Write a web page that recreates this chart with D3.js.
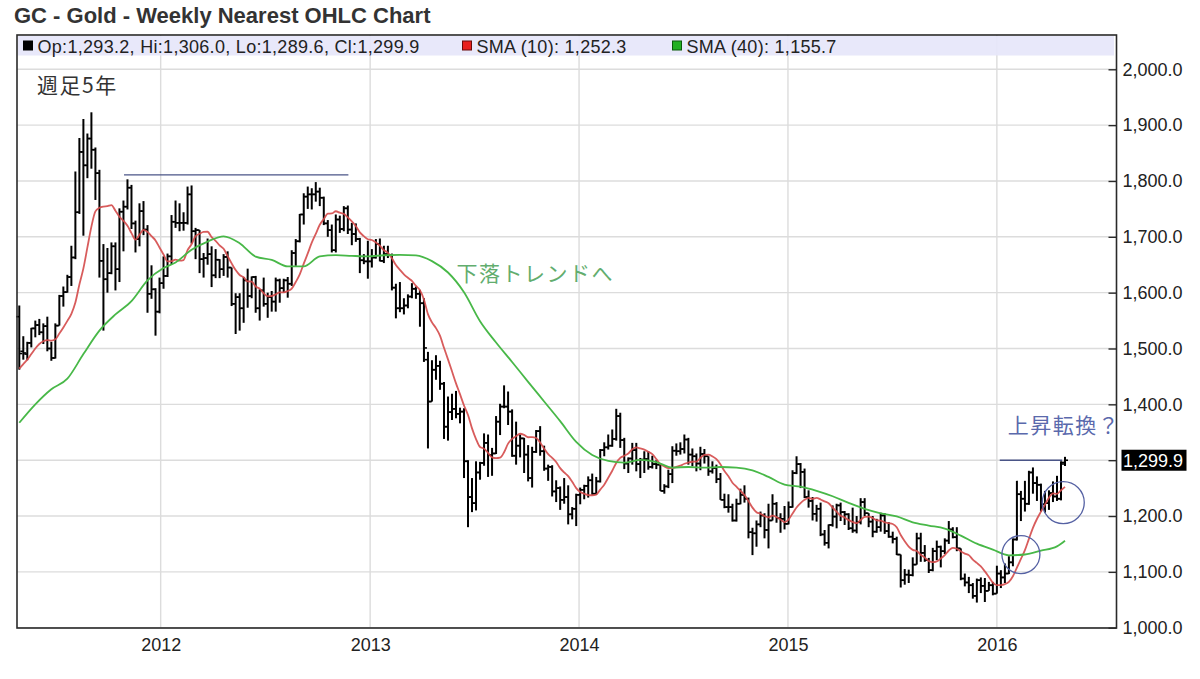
<!DOCTYPE html>
<html><head><meta charset="utf-8">
<script src="https://cdn.jsdelivr.net/npm/d3@7"></script>
<style>
html,body{margin:0;padding:0;background:#fff;}
svg{display:block;}
</style></head><body>
<svg id="chart" width="1200" height="679"></svg>
<script>
// ---------------- DATA ----------------
const chartTitle = "GC - Gold - Weekly Nearest OHLC Chart";
const firstWeek = "2011-04-29";           // position of first weekly bar, then one bar per week

const opens = [
 1557,1495,1490,1510,1536,1542,1529,1540,1500,1483,1541,1594,1601,1628,1663,1744,1852,1828,1876,1856,1814,1657,1624,1635,1683,1642,1745,1754,1788,1724,1696,1746,1713,1598,1606,
 1566,1617,1630,1665,1727,1725,1725,1725,1776,1710,1712,1660,1662,1669,1631,1659,1642,1664,1645,1580,1592,1572,1622,1594,1628,1572,1604,1580,1592,1584,1622,1608,1622,1616,1671,1692,1740,1772,1776,1776,1781,1770,1724,1712,1676,1731,1714,1751,1713,1705,1696,1658,1656,
 1656,1663,1687,1657,1669,1667,1609,1572,1572,1577,1593,1607,1598,1581,1480,1405,1462,1469,1437,1360,1386,1392,1383,1387,1298,1234,1223,1278,1295,1331,1309,1312,1369,1396,1396,1387,1308,1326,1339,1310,1268,1315,1352,1316,1285,1288,1244,1250,1229,1234,1203,1213,
 1238,1247,1254,1264,1240,1262,1318,1323,1326,1338,1379,1336,1294,1303,1318,1293,1301,1302,1288,1293,1292,1245,1253,1275,1317,1316,1320,1337,1310,1307,1294,1311,1307,1280,1286,1266,1229,1216,1216,1192,1222,1238,1231,1171,1169,1185,1201,1175,1192,1222,1196,1195,
 1186,1216,1277,1293,1279,1234,1227,1204,1213,1167,1152,1184,1199,1219,1207,1203,1178,1174,1189,1225,1205,1190,1172,1180,1201,1173,1163,1159,1131,1085,1095,1094,1113,1160,1134,1121,1103,1137,1145,1137,1156,1176,1162,1142,1088,1081,1076,1057,1085,1075,1066,1076,
 1061,1097,1090,1097,1117,1158,1239,1231,1222,1278,1259,1256,1221,1223,1241,1235,1231,1293.2
];
const highs = [
 1577,1522,1512,1537,1550,1553,1545,1557,1512,1545,1596,1611,1632,1684,1817,1877,1911,1885,1923,1860,1820,1687,1680,1690,1690,1751,1765,1803,1793,1729,1760,1764,1721,1649,1608,
 1627,1665,1670,1739,1765,1760,1744,1790,1792,1716,1712,1671,1697,1683,1678,1660,1669,1674,1645,1599,1599,1628,1643,1629,1630,1606,1627,1600,1603,1627,1625,1625,1628,1676,1696,1741,1778,1790,1787,1798,1788,1772,1730,1722,1740,1738,1755,1756,1725,1724,1698,1669,1693,
 1678,1696,1697,1684,1684,1670,1616,1619,1590,1597,1617,1611,1605,1590,1494,1479,1488,1478,1440,1414,1419,1424,1394,1393,1300,1268,1298,1297,1348,1346,1322,1379,1401,1434,1423,1391,1369,1346,1340,1327,1324,1354,1361,1326,1292,1291,1264,1253,1268,1255,1216,1240,
 1251,1256,1271,1276,1270,1320,1332,1346,1355,1392,1385,1340,1305,1331,1331,1304,1316,1316,1308,1300,1294,1257,1283,1325,1330,1332,1346,1340,1321,1312,1324,1320,1307,1298,1292,1277,1240,1239,1222,1231,1249,1255,1233,1179,1192,1208,1205,1222,1239,1225,1205,1218,
 1226,1282,1307,1295,1285,1246,1234,1220,1224,1175,1185,1219,1222,1224,1209,1205,1215,1200,1232,1232,1205,1200,1195,1206,1205,1189,1172,1163,1131,1105,1104,1126,1170,1170,1148,1125,1143,1156,1147,1160,1191,1180,1180,1142,1097,1091,1080,1088,1090,1089,1082,1082,
 1111,1103,1115,1128,1160,1263,1245,1263,1281,1287,1271,1258,1245,1246,1262,1272,1298,1306.0
];
const lows = [
 1462,1480,1479,1502,1520,1524,1508,1495,1478,1482,1541,1575,1600,1612,1660,1741,1702,1805,1822,1766,1627,1532,1600,1633,1604,1619,1674,1749,1714,1672,1683,1703,1564,1589,1523,
 1563,1607,1628,1651,1716,1710,1711,1722,1688,1660,1635,1627,1650,1610,1626,1626,1630,1627,1576,1526,1532,1546,1573,1590,1564,1550,1575,1555,1566,1566,1582,1600,1591,1612,1648,1690,1722,1750,1749,1763,1755,1721,1700,1672,1672,1707,1710,1705,1685,1691,1635,1651,1625,
 1645,1661,1656,1653,1662,1604,1554,1565,1561,1572,1590,1589,1539,1476,1321,1405,1444,1426,1338,1335,1372,1375,1366,1268,1180,1207,1210,1265,1290,1270,1272,1311,1345,1393,1363,1306,1292,1305,1277,1262,1251,1313,1308,1281,1263,1235,1225,1211,1222,1185,1194,1182,
 1221,1230,1233,1238,1238,1260,1307,1319,1324,1335,1322,1284,1277,1292,1280,1268,1277,1283,1285,1284,1245,1240,1250,1259,1308,1310,1312,1292,1289,1280,1282,1294,1272,1276,1259,1229,1214,1206,1190,1190,1221,1224,1160,1130,1145,1180,1160,1142,1192,1188,1170,1176,
 1185,1215,1275,1250,1232,1215,1192,1190,1164,1147,1142,1181,1178,1191,1184,1175,1170,1169,1185,1200,1180,1162,1170,1172,1168,1161,1151,1130,1072,1077,1080,1092,1113,1118,1118,1098,1101,1121,1108,1132,1150,1160,1137,1085,1074,1062,1052,1045,1062,1046,1066,1058,
 1061,1071,1080,1096,1110,1156,1191,1208,1220,1240,1227,1208,1206,1211,1225,1227,1228,1289.6
];
const closes = [
 1491,1492,1510,1536,1542,1529,1540,1500,1483,1541,1594,1601,1628,1663,1744,1852,1828,1876,1856,1814,1657,1624,1635,1683,1642,1745,1754,1788,1724,1696,1746,1713,1598,1606,1566,
 1617,1630,1665,1727,1725,1725,1725,1776,1710,1712,1660,1662,1669,1631,1659,1642,1664,1645,1580,1592,1572,1622,1594,1628,1572,1604,1580,1592,1584,1622,1608,1622,1616,1671,1692,1740,1772,1776,1776,1781,1770,1724,1712,1676,1731,1714,1751,1713,1705,1696,1658,1656,1656,
 1663,1687,1657,1669,1667,1609,1572,1572,1577,1593,1607,1598,1581,1501,1405,1462,1469,1437,1360,1386,1392,1383,1387,1298,1234,1223,1278,1295,1331,1309,1312,1369,1396,1396,1387,1308,1326,1339,1310,1268,1315,1352,1316,1285,1288,1244,1250,1229,1234,1203,1213,1238,
 1247,1254,1264,1240,1262,1318,1323,1326,1338,1379,1336,1294,1303,1318,1293,1301,1302,1288,1293,1292,1245,1253,1275,1317,1316,1320,1337,1310,1307,1294,1311,1307,1280,1286,1266,1229,1216,1216,1192,1222,1238,1231,1171,1169,1185,1201,1175,1192,1222,1196,1195,1186,
 1216,1277,1293,1279,1234,1227,1204,1213,1167,1152,1184,1199,1219,1207,1203,1178,1174,1189,1225,1205,1190,1172,1180,1201,1173,1163,1159,1131,1085,1095,1094,1113,1160,1134,1121,1103,1137,1145,1137,1156,1176,1162,1142,1088,1081,1076,1057,1085,1075,1066,1076,1061,
 1097,1090,1097,1117,1158,1239,1231,1222,1278,1259,1256,1221,1223,1241,1235,1231,1296,1299.9
];

// SMA (10) value for every weekly bar
const sma10 = [
 1464,1472,1480,1490,1500,1508,1513,1515,1514,1516.4,
 1526.7,1537.6,1549.4,1562.1,1582.3,1614.6,1643.4,1681.0,1718.3,1745.6,
 1751.9,1754.2,1754.9,1756.9,1746.7,1736.0,1728.6,1719.8,1706.6,1694.8,
 1703.7,1712.6,1708.9,1701.2,1693.6,1680.8,1668.4,1656.1,1656.4,1659.3,
 1657.2,1658.4,1676.2,1686.6,1701.2,1705.5,1708.7,1709.1,1699.5,1692.9,
 1684.6,1678.5,1665.4,1652.4,1640.4,1631.6,1627.6,1620.1,1619.8,1611.1,
 1607.3,1598.9,1593.6,1594.0,1597.0,1600.6,1600.6,1602.8,1607.1,1619.1,
 1632.7,1651.9,1670.3,1689.5,1705.4,1721.6,1731.8,1741.4,1741.9,1745.8,
 1743.2,1741.1,1734.8,1727.7,1719.2,1708.0,1701.2,1695.6,1694.3,1689.9,
 1684.2,1676.0,1671.4,1661.8,1649.4,1640.8,1632.9,1626.6,1621.0,1612.1,
 1604.5,1587.7,1561.5,1546.8,1536.5,1523.0,1501.3,1480.6,1459.1,1437.6,
 1418.2,1397.9,1380.8,1356.9,1337.8,1323.6,1320.7,1313.0,1305.0,1303.6,
 1304.5,1314.3,1329.6,1338.1,1342.9,1347.3,1345.2,1341.1,1341.4,1339.7,
 1331.7,1320.6,1310.7,1304.3,1296.7,1285.7,1278.1,1271.6,1261.4,1250.0,
 1243.1,1240.0,1237.6,1237.2,1238.4,1247.3,1256.2,1268.5,1281.0,1295.1,
 1304.0,1308.0,1311.9,1319.7,1322.8,1321.1,1319.0,1315.2,1310.7,1302.0,
 1292.9,1288.8,1286.0,1285.9,1288.2,1290.1,1293.6,1295.8,1297.2,1297.4,
 1304.0,1309.4,1309.9,1306.8,1301.8,1292.7,1280.6,1271.2,1259.7,1252.5,
 1245.2,1237.6,1226.7,1215.0,1206.9,1204.1,1200.0,1197.6,1200.6,1198.0,
 1193.7,1189.2,1193.7,1204.5,1215.3,1223.1,1229.0,1232.5,1230.7,1232.4,
 1229.6,1226.2,1223.0,1215.2,1207.8,1200.6,1197.5,1192.6,1189.6,1187.2,
 1193.0,1198.3,1198.9,1196.2,1192.3,1191.7,1188.7,1187.2,1185.7,1179.9,
 1165.9,1154.9,1145.3,1139.4,1137.4,1130.7,1125.5,1119.5,1117.3,1118.7,
 1123.9,1130.0,1138.2,1143.1,1141.3,1136.7,1132.7,1130.0,1122.0,1116.0,
 1109.8,1100.8,1090.8,1080.7,1076.2,1076.4,1078.0,1082.1,1092.2,1107.6,
 1123.2,1138.8,1159.0,1178.8,1194.7,1207.8,1220.4,1232.8,1240.5,1239.7,
 1246.2,1252.3
];

// SMA (40) sampled at these bar numbers
const sma40Week = [0,4,8,12,16,20,24,28,32,36,39,43,47,51,55,59,63,67,71,75,79,83,87,91,95,99,103,107,111,115,119,123,127,131,135,139,143,147,151,155,159,163,167,171,175,179,183,187,191,195,199,203,207,211,215,219,223,227,231,235,239,243,247,251,255,259,261];
const sma40 = [1367,1400,1427,1446,1490,1532,1561,1585,1622,1644,1654.0,1676.7,1691.5,1700.9,1688.5,1664.5,1658.6,1647.0,1646.9,1664.8,1667.2,1665.9,1665.0,1667.0,1667.8,1666.7,1656.5,1636.1,1600.7,1548.9,1510.8,1475.9,1440.3,1405.1,1369.9,1332.7,1309.1,1298.6,1295.7,1300.4,1296.7,1286.8,1287.8,1286.6,1287.8,1286.8,1281.9,1270.0,1256.3,1252.5,1245.1,1235.4,1223.5,1212.8,1204.9,1199.4,1188.8,1183.0,1177.4,1164.9,1150.5,1139.9,1129.7,1131.1,1137.9,1145.6,1155.7];

const yTicks = [1000,1100,1200,1300,1400,1500,1600,1700,1800,1900,2000];
const xYears = [2012,2013,2014,2015,2016];
const lastPrice = 1299.9;
const legendItems = [
  {label:"Op:1,293.2, Hi:1,306.0, Lo:1,289.6, Cl:1,299.9", fill:"#000000", stroke:"#000000"},
  {label:"SMA (10): 1,252.3", fill:"#e8201e", stroke:"#6a0a0a"},
  {label:"SMA (40): 1,155.7", fill:"#22b022", stroke:"#0a5a0a"}
];
// annotations (date / price)
const resistLines = [
  {from:"2011-10-29", to:"2012-11-24", price:1811},
  {from:"2016-01-06", to:"2016-04-24", price:1300}
];
const circles = [
  {date:"2016-04-26", price:1224, r:21},
  {date:"2016-02-12", price:1131, r:19}
];
const notes = [
  {text:"週足5年", date:"2011-05-30", price:1957, color:"#333333"},
  {text:"下落トレンドへ", date:"2013-06-01", price:1621, color:"#62ad6e"},
  {text:"上昇転換？", date:"2016-01-20", price:1348, color:"#5a69ac"}
];

// ---------------- CHART ----------------
const svg = d3.select("#chart");
const L = 17, R = 1116.5, T = 35, B = 628;
const FONT = "'Liberation Sans', Arial, sans-serif";
const CJK = "'Noto Sans CJK JP', 'Noto Sans CJK SC', sans-serif";
const pd = d3.utcParse("%Y-%m-%d");

const x = d3.scaleUtc()
  .domain([new Date(Date.UTC(2011,3,25)), new Date(Date.UTC(2016,6,28))])
  .range([L, R]);
const y = d3.scaleLinear().domain([1000, 2000]).range([627.7, 69.3]);

const start = pd(firstWeek);
const bars = opens.map((o,i)=>({date:d3.utcDay.offset(start, 7*i), o, h:highs[i], l:lows[i], c:closes[i], s:sma10[i]}));

svg.append("rect").attr("width",1200).attr("height",679).attr("fill","#fff");

// title
svg.append("text").attr("x",14).attr("y",23)
  .attr("font-family",FONT).attr("font-weight","bold").attr("font-size",22).attr("fill","#333")
  .text(chartTitle);

// grid
const grid = svg.append("g").attr("stroke","#dcdcdc").attr("stroke-width",1.4);
grid.selectAll("line.h").data(yTicks).join("line")
  .attr("x1",L).attr("x2",R).attr("y1",d=>y(d)).attr("y2",d=>y(d));
grid.selectAll("line.v").data(xYears).join("line")
  .attr("x1",d=>x(Date.UTC(d,0,1))).attr("x2",d=>x(Date.UTC(d,0,1)))
  .attr("y1",T).attr("y2",B);

// legend bar
svg.append("rect").attr("x",L+1).attr("y",T+1).attr("width",1114-L-1).attr("height",19.5)
  .attr("fill","#e6e6fa").attr("fill-opacity",0.92);
const legX = [23.5, 462.5, 672.5];
const legG = svg.append("g");
legendItems.forEach((d,i)=>{
  legG.append("rect").attr("x",legX[i]).attr("y",41).attr("width",9).attr("height",9)
    .attr("fill",d.fill).attr("stroke",d.stroke).attr("stroke-width",1);
  legG.append("text").attr("x",legX[i]+14).attr("y",52.5)
    .attr("font-family",FONT).attr("font-size",18).attr("letter-spacing","0.3px")
    .attr("fill","#222").text(d.label);
});

// OHLC bars
const bg = svg.append("g").attr("stroke","#000").attr("fill","none");
bg.selectAll("line.hl").data(bars).join("line")
  .attr("x1",d=>x(d.date)).attr("x2",d=>x(d.date))
  .attr("y1",d=>y(d.h)).attr("y2",d=>y(d.l)).attr("stroke-width",2);
bg.selectAll("line.o").data(bars).join("line")
  .attr("x1",d=>x(d.date)-3).attr("x2",d=>x(d.date))
  .attr("y1",d=>y(d.o)).attr("y2",d=>y(d.o)).attr("stroke-width",1.6);
bg.selectAll("line.c").data(bars).join("line")
  .attr("x1",d=>x(d.date)).attr("x2",d=>x(d.date)+3)
  .attr("y1",d=>y(d.c)).attr("y2",d=>y(d.c)).attr("stroke-width",1.6);

// SMA lines
const line10 = d3.line().x(d=>x(d.date)).y(d=>y(d.s)).curve(d3.curveMonotoneX);
svg.append("path").datum(bars).attr("d",line10)
  .attr("fill","none").attr("stroke","#d44a4a").attr("stroke-width",1.8).attr("stroke-opacity",0.9);
const s40 = sma40Week.map((w,i)=>({date:d3.utcDay.offset(start,7*w), v:sma40[i]}));
const line40 = d3.line().x(d=>x(d.date)).y(d=>y(d.v)).curve(d3.curveMonotoneX);
svg.append("path").datum(s40).attr("d",line40)
  .attr("fill","none").attr("stroke","#48b848").attr("stroke-width",1.8);

// annotations
svg.append("g").selectAll("line").data(resistLines).join("line")
  .attr("x1",d=>x(pd(d.from))).attr("x2",d=>x(pd(d.to)))
  .attr("y1",d=>y(d.price)).attr("y2",d=>y(d.price))
  .attr("stroke","#4a5587").attr("stroke-width",1.4);
svg.append("g").selectAll("circle").data(circles).join("circle")
  .attr("cx",d=>x(pd(d.date))).attr("cy",d=>y(d.price)).attr("r",d=>d.r)
  .attr("fill","none").attr("stroke","#5561a3").attr("stroke-width",1.3);
svg.append("g").selectAll("text").data(notes).join("text")
  .attr("x",d=>x(pd(d.date))).attr("y",d=>y(d.price))
  .attr("font-family",CJK).attr("font-size",21).attr("letter-spacing","1.5px")
  .attr("fill",d=>d.color).text(d=>d.text);

// frame
svg.append("rect").attr("x",L).attr("y",T).attr("width",R-L).attr("height",B-T)
  .attr("fill","none").attr("stroke","#2a2a2a").attr("stroke-width",1.6);

// right axis
const yAxis = d3.axisRight(y).tickValues(yTicks).tickSize(-8).tickPadding(6)
  .tickFormat(d=> d===1300 ? "" : d3.format(",.1f")(d));
const ya = svg.append("g").attr("transform",`translate(${R},0)`).call(yAxis);
ya.select(".domain").remove();
ya.selectAll(".tick line").attr("stroke","#2a2a2a").attr("stroke-width",1.4);
ya.selectAll("text").attr("font-family",FONT).attr("font-size",18).attr("fill","#222");

// bottom axis labels
const xAxis = d3.axisBottom(x).tickValues(xYears.map(v=>new Date(Date.UTC(v,0,1))))
  .tickSize(0).tickPadding(10).tickFormat(d3.utcFormat("%Y"));
const xa = svg.append("g").attr("transform",`translate(0,${B})`).call(xAxis);
xa.select(".domain").remove();
xa.selectAll("text").attr("font-family",FONT).attr("font-size",18).attr("fill","#222");

// last price tag
const tag = svg.append("g").attr("transform",`translate(${R+5},${y(lastPrice)})`);
tag.append("rect").attr("x",0).attr("y",-10.5).attr("width",65).attr("height",21).attr("fill","#000");
tag.append("text").attr("x",1.5).attr("y",6.5).attr("font-family",FONT).attr("font-size",18)
  .attr("fill","#fff").text(d3.format(",.1f")(lastPrice));
</script>
</body></html>
